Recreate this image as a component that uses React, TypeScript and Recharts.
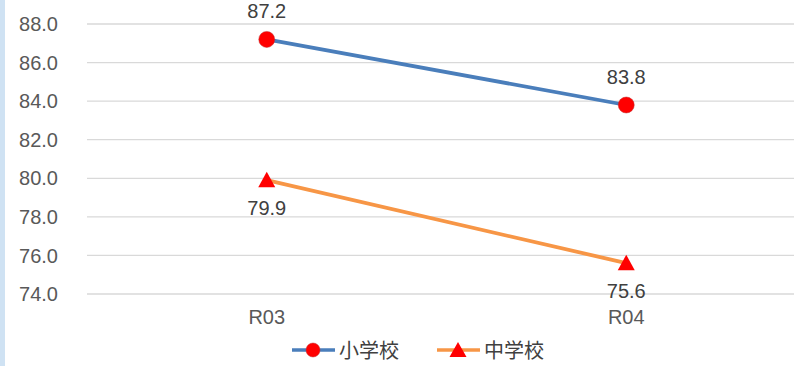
import { LineChart, Line, XAxis, YAxis, CartesianGrid, Legend, LabelList } from 'recharts';

const categories = ['R03', 'R04'];
const elementary = [87.2, 83.8];
const juniorHigh = [79.9, 75.6];
const yTicks = [74, 76, 78, 80, 82, 84, 86, 88];

const data = categories.map((name, i) => ({
  name,
  elementary: elementary[i],
  juniorHigh: juniorHigh[i],
}));

const BLUE = '#4a7ebb';
const ORANGE = '#f79646';
const RED = '#ff0000';
const FONT = '"Liberation Sans", Arial, "Noto Sans CJK JP", sans-serif';

const TriangleDot = (props: any) => {
  const { cx, cy } = props;
  if (cx == null || cy == null) return null;
  return <path d={`M${cx},${cy - 8.5} L${cx + 8.5},${cy + 7} L${cx - 8.5},${cy + 7} Z`} fill={RED} />;
};

const makeLabel = (dy: number) => (props: any) => {
  const { x, y, value } = props;
  return (
    <text x={x} y={y + dy} textAnchor="middle" dominantBaseline="central" fill="#404040" fontSize={20} fontFamily={FONT}>
      {Number(value).toFixed(1)}
    </text>
  );
};

const LegendContent = () => (
  <div style={{ display: 'flex', justifyContent: 'center', alignItems: 'center', height: 30, lineHeight: '30px', fontSize: 20, color: '#404040', paddingLeft: 30, paddingTop: 5 }}>
    <svg width={44} height={20}>
      <line x1={0} y1={10} x2={43} y2={10} stroke={BLUE} strokeWidth={3.5} />
      <circle cx={21} cy={10} r={7} fill={RED} stroke="#c03030" strokeWidth={0.5} />
    </svg>
    <span style={{ marginLeft: 3, marginRight: 38, fontFamily: '"Noto Sans CJK JP", sans-serif' }}>小学校</span>
    <svg width={44} height={20}>
      <line x1={0} y1={10} x2={43} y2={10} stroke={ORANGE} strokeWidth={3.5} />
      <path d="M21,2 L29.5,17 L12.5,17 Z" fill={RED} />
    </svg>
    <span style={{ marginLeft: 3, fontFamily: '"Noto Sans CJK JP", sans-serif' }}>中学校</span>
  </div>
);

export default function App() {
  return (
    <div style={{ position: 'fixed', left: 0, top: 0, width: 794, height: 366, overflow: 'hidden', background: '#fff' }}>
      <div style={{ position: 'absolute', left: 0, top: 0, width: 5, height: 366, background: '#cfe2f3' }} />
      <LineChart
        width={806}
        height={366}
        data={data}
        margin={{ top: 24, right: 0, left: 0, bottom: 0 }}
        style={{ fontFamily: FONT }}
      >
        <CartesianGrid horizontal vertical={false} stroke="#d9d9d9" strokeWidth={1.3} />
        <XAxis
          dataKey="name"
          scale="band"
          axisLine={false}
          tickLine={false}
          tickMargin={10}
          height={36}
          tick={{ fill: '#595959', fontSize: 20 }}
        />
        <YAxis
          domain={[74, 88]}
          ticks={yTicks}
          width={87}
          axisLine={false}
          tickLine={false}
          tickMargin={23}
          interval={0}
          tickFormatter={(v: number) => v.toFixed(1)}
          tick={{ fill: '#595959', fontSize: 20 }}
        />
        <Legend verticalAlign="bottom" height={36} content={<LegendContent />} />
        <Line
          dataKey="elementary"
          name="小学校"
          stroke={BLUE}
          strokeWidth={3.8}
          dot={{ r: 8, fill: RED, stroke: '#c03030', strokeWidth: 0.5 }}
          isAnimationActive={false}
        >
          <LabelList dataKey="elementary" content={makeLabel(-28)} />
        </Line>
        <Line
          dataKey="juniorHigh"
          name="中学校"
          stroke={ORANGE}
          strokeWidth={3.8}
          dot={<TriangleDot />}
          isAnimationActive={false}
        >
          <LabelList dataKey="juniorHigh" content={makeLabel(28)} />
        </Line>
      </LineChart>
    </div>
  );
}
